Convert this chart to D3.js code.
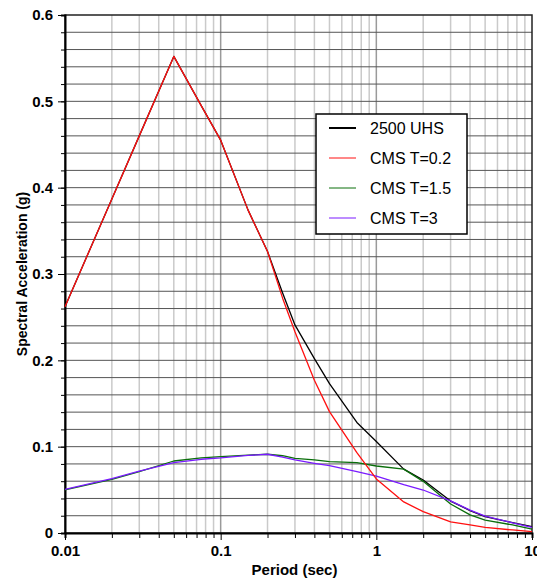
<!DOCTYPE html>
<html>
<head>
<meta charset="utf-8">
<script src="https://cdn.jsdelivr.net/npm/d3@7"></script>
<style>
  body { margin: 0; background: #fff; }
  svg { font-family: "Liberation Sans", Arial, Helvetica, sans-serif; }
</style>
</head>
<body>
<svg id="chart" width="537" height="582"></svg>
<script>
var width = 537,
    height = 582;

var margin = {top: 15, right: 5, bottom: 49, left: 65};

// periods (sec) and spectral acceleration (g)
var periods = [0.01, 0.02, 0.03, 0.05, 0.075, 0.1, 0.15, 0.2, 0.25, 0.3, 0.4, 0.5, 0.75, 1, 1.5, 2, 3, 4, 5, 7.5, 10];
var uhs2500 = [0.262, 0.387, 0.460, 0.552, 0.495, 0.455, 0.374, 0.326, 0.278, 0.241, 0.202, 0.173, 0.128, 0.106, 0.074, 0.0614, 0.037, 0.026, 0.019, 0.012, 0.0073];
var cmsT02  = [0.262, 0.387, 0.460, 0.552, 0.495, 0.455, 0.374, 0.326, 0.272, 0.233, 0.177, 0.1406, 0.093, 0.0626, 0.036, 0.0247, 0.013, 0.0093, 0.0066, 0.0035, 0.0015];
var cmsT15  = [0.050, 0.062, 0.071, 0.0834, 0.0869, 0.0884, 0.0902, 0.0912, 0.0895, 0.0865, 0.0846, 0.0826, 0.0815, 0.0776, 0.074, 0.0598, 0.0336, 0.021, 0.015, 0.0093, 0.0046];
var cmsT3   = [0.0506, 0.063, 0.0718, 0.0815, 0.0854, 0.0869, 0.0898, 0.0912, 0.088, 0.0846, 0.0807, 0.078, 0.071, 0.066, 0.056, 0.0498, 0.0372, 0.0265, 0.0195, 0.0118, 0.0064];

var seriesNames  = ["2500 UHS", "CMS T=0.2", "CMS T=1.5", "CMS T=3"];
var seriesColors = ["#000000", "#ff1010", "#0a6e0a", "#7a1aff"];
var seriesWidths = [1.3, 1.3, 1.3, 1.3];
var seriesValues = [uhs2500, cmsT02, cmsT15, cmsT3];

var xMajor = [0.01, 0.1, 1, 10];
var yMajor = [0, 0.1, 0.2, 0.3, 0.4, 0.5, 0.6];

var svg = d3.select("#chart");

var x = d3.scaleLog().domain([0.01, 10]).range([margin.left, width - margin.right]);
var y = d3.scaleLinear().domain([0, 0.6]).range([height - margin.bottom, margin.top]);

// minor decade values 0.02..9
var xMinor = [];
[0.01, 0.1, 1].forEach(function(d) {
  for (var k = 2; k <= 9; k++) xMinor.push(d * k);
});
var yMinor = d3.range(0, 0.6001, 0.02);

// vertical grid
svg.append("g").selectAll("line")
  .data(xMinor)
  .enter().append("line")
  .attr("x1", function(d) { return x(d); })
  .attr("x2", function(d) { return x(d); })
  .attr("y1", y(0))
  .attr("y2", y(0.6))
  .attr("stroke", "#cacaca")
  .attr("stroke-width", 1.5);

svg.append("g").selectAll("line")
  .data([0.1, 1])
  .enter().append("line")
  .attr("x1", function(d) { return x(d); })
  .attr("x2", function(d) { return x(d); })
  .attr("y1", y(0))
  .attr("y2", y(0.6))
  .attr("stroke", "#9a9a9a")
  .attr("stroke-width", 1.5);

// horizontal grid every 0.02
svg.append("g").selectAll("line")
  .data(yMinor.slice(1, -1))
  .enter().append("line")
  .attr("x1", x(0.01))
  .attr("x2", x(10))
  .attr("y1", function(d) { return y(d); })
  .attr("y2", function(d) { return y(d); })
  .attr("stroke", "#555")
  .attr("stroke-width", 1);

// frame
svg.append("rect")
  .attr("x", x(0.01))
  .attr("y", y(0.6))
  .attr("width", x(10) - x(0.01))
  .attr("height", y(0) - y(0.6))
  .attr("fill", "none")
  .attr("stroke", "#222")
  .attr("stroke-width", 1.5);

// axes
var yAxis = d3.axisLeft(y)
  .tickValues(yMinor)
  .tickSize(4)
  .tickFormat("");
svg.append("g")
  .attr("transform", "translate(" + x(0.01) + ",0)")
  .call(yAxis)
  .call(function(g) { g.select(".domain").attr("stroke-width", 2); });

svg.append("g")
  .attr("transform", "translate(" + x(0.01) + ",0)")
  .call(d3.axisLeft(y).tickValues(yMajor).tickSize(7).tickPadding(5)
    .tickFormat(function(d) { return d === 0 ? "0" : d3.format(".1f")(d); }))
  .call(function(g) {
    g.select(".domain").remove();
    g.selectAll("text")
      .attr("font-size", 15)
      .attr("font-weight", "bold")
      .attr("font-family", "Liberation Sans, Arial, sans-serif")
      .attr("fill", "#000");
  });

var xAxis = d3.axisBottom(x)
  .tickValues(xMinor)
  .tickSize(5)
  .tickFormat("");
svg.append("g")
  .attr("transform", "translate(0," + y(0) + ")")
  .call(xAxis)
  .call(function(g) { g.select(".domain").attr("stroke-width", 2); });

svg.append("g")
  .attr("transform", "translate(0," + y(0) + ")")
  .call(d3.axisBottom(x).tickValues(xMajor).tickSize(7).tickPadding(5)
    .tickFormat(function(d) { return String(d); }))
  .call(function(g) {
    g.select(".domain").remove();
    g.selectAll("text")
      .attr("font-size", 15)
      .attr("font-weight", "bold")
      .attr("font-family", "Liberation Sans, Arial, sans-serif")
      .attr("fill", "#000");
  });

// axis titles
svg.append("text")
  .attr("x", (x(0.01) + x(10)) / 2 - 4)
  .attr("y", 575)
  .attr("text-anchor", "middle")
  .attr("font-size", 15)
  .attr("font-weight", "bold")
  .text("Period (sec)");

svg.append("text")
  .attr("transform", "translate(27," + ((y(0) + y(0.6)) / 2) + ") rotate(-90)")
  .attr("text-anchor", "middle")
  .attr("font-size", 14)
  .attr("font-weight", "bold")
  .text("Spectral Acceleration (g)");

// curves: UHS underneath, CMS T=0.2 on top so it hides the shared branch
var line = d3.line()
  .x(function(d, i) { return x(periods[i]); })
  .y(function(d) { return y(d); });

var order = [0, 2, 3, 1];
svg.append("g").selectAll("path")
  .data(order)
  .enter().append("path")
  .attr("d", function(i) { return line(seriesValues[i]); })
  .attr("fill", "none")
  .attr("stroke", function(i) { return seriesColors[i]; })
  .attr("stroke-width", function(i) { return seriesWidths[i]; })
  .attr("stroke-linejoin", "round");

// legend
var legend = svg.append("g").attr("transform", "translate(316,114)");
legend.append("rect")
  .attr("width", 151)
  .attr("height", 120)
  .attr("fill", "#fff")
  .attr("stroke", "#000")
  .attr("stroke-width", 1.5);

var items = legend.selectAll("g.item")
  .data(seriesNames)
  .enter().append("g")
  .attr("class", "item")
  .attr("transform", function(d, i) { return "translate(0," + (14 + i * 30) + ")"; });

items.append("line")
  .attr("x1", 13)
  .attr("x2", 40)
  .attr("stroke", function(d, i) { return seriesColors[i]; })
  .attr("stroke-width", function(d, i) { return i === 0 ? 2 : 1; });

items.append("text")
  .attr("x", 54)
  .attr("y", 5.5)
  .attr("font-size", 16)
  .text(function(d) { return d; });
</script>
</body>
</html>
